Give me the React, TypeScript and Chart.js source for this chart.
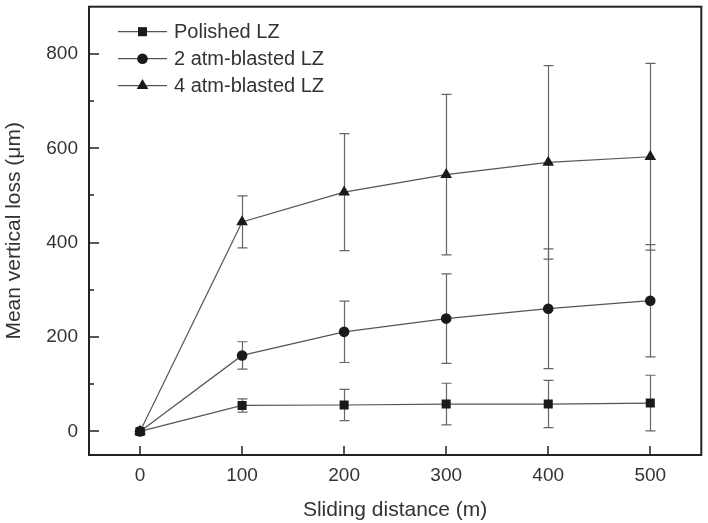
import React, { useEffect, useRef } from "react";
import { Chart, registerables } from "chart.js";

Chart.register(...registerables);

const xValues = [0, 100, 200, 300, 400, 500];
const xTicks = [0, 100, 200, 300, 400, 500];
const yTicks = [0, 200, 400, 600, 800];
const yMinorTicks = [100, 300, 500, 700];

const seriesLabels = ["Polished LZ", "2 atm-blasted LZ", "4 atm-blasted LZ"];
const polished = [0, 55, 56, 58, 58, 60];
const polishedErr = [0, 14, 33, 44, 50, 59];
const atm2 = [0, 161, 211, 239, 260, 277];
const atm2Err = [0, 29, 65, 95, 127, 119];
const atm4 = [0, 444, 507, 544, 570, 582];
const atm4Err = [0, 55, 124, 170, 205, 198];

const xTitle = "Sliding distance (m)";
const yTitle = "Mean vertical loss (\u03bcm)";

const FONT = "'Liberation Sans', Arial, Helvetica, sans-serif";
const TEXT = "#333333";
const AXIS = "#222222";
const LINE = "#555555";
const MARK = "#1a1a1a";
const ERR = "#666666";

const errorsBySeries = [polishedErr, atm2Err, atm4Err];

function drawMarker(ctx: CanvasRenderingContext2D, style: string, r: number, x: number, y: number) {
  ctx.beginPath();
  if (style === "rect") {
    const s = Math.SQRT1_2 * r;
    ctx.rect(x - s, y - s, 2 * s, 2 * s);
  } else if (style === "circle") {
    ctx.arc(x, y, r, 0, Math.PI * 2);
  } else {
    const a = (2 * Math.PI) / 3;
    ctx.moveTo(x, y - r);
    ctx.lineTo(x + Math.sin(a) * r, y - Math.cos(a) * r);
    ctx.lineTo(x - Math.sin(a) * r, y - Math.cos(a) * r);
    ctx.closePath();
  }
  ctx.fill();
}

const errorBarPlugin = {
  id: "errorBars",
  beforeDatasetsDraw(chart: any) {
    const { ctx, scales } = chart;
    const xs = scales.x;
    const ys = scales.y;
    ctx.save();
    ctx.strokeStyle = ERR;
    ctx.lineWidth = 1.2;
    chart.data.datasets.forEach((ds: any, i: number) => {
      const errs = errorsBySeries[i];
      ds.data.forEach((pt: any, j: number) => {
        const e = errs[j];
        if (!e) return;
        const px = Math.round(xs.getPixelForValue(pt.x)) + 0.5;
        const top = ys.getPixelForValue(pt.y + e);
        const bot = ys.getPixelForValue(pt.y - e);
        const cap = 5;
        ctx.beginPath();
        ctx.moveTo(px, top);
        ctx.lineTo(px, bot);
        ctx.moveTo(px - cap, top);
        ctx.lineTo(px + cap, top);
        ctx.moveTo(px - cap, bot);
        ctx.lineTo(px + cap, bot);
        ctx.stroke();
      });
    });
    ctx.restore();
  },
};

const frameLegendPlugin = {
  id: "frameLegend",
  afterDraw(chart: any) {
    const { ctx, chartArea, scales } = chart;
    const { left, right, top, bottom } = chartArea;
    ctx.save();
    ctx.strokeStyle = AXIS;
    ctx.lineWidth = 2;
    ctx.strokeRect(left, top, right - left, bottom - top);
    ctx.lineWidth = 1.5;
    ctx.beginPath();
    yTicks.forEach((v) => {
      const y = Math.round(scales.y.getPixelForValue(v));
      ctx.moveTo(left, y);
      ctx.lineTo(left + 10, y);
    });
    yMinorTicks.forEach((v) => {
      const y = Math.round(scales.y.getPixelForValue(v));
      ctx.moveTo(left, y);
      ctx.lineTo(left + 5, y);
    });
    xTicks.forEach((v) => {
      const x = Math.round(scales.x.getPixelForValue(v));
      ctx.moveTo(x, bottom);
      ctx.lineTo(x, bottom - 9);
    });
    ctx.stroke();

    const rows = [25, 52, 79];
    chart.data.datasets.forEach((ds: any, i: number) => {
      const y = top + rows[i];
      const x0 = left + 29;
      const x1 = left + 78;
      ctx.strokeStyle = LINE;
      ctx.lineWidth = 1.2;
      ctx.beginPath();
      ctx.moveTo(x0, y);
      ctx.lineTo(x1, y);
      ctx.stroke();
      ctx.fillStyle = MARK;
      drawMarker(ctx, ds.pointStyle, ds.pointRadius, (x0 + x1) / 2, y);
      ctx.fillStyle = TEXT;
      ctx.font = `20px ${FONT}`;
      ctx.textBaseline = "middle";
      ctx.textAlign = "left";
      ctx.fillText(ds.label, left + 85, y + 1);
    });
    ctx.restore();
  },
};

export default function App() {
  const ref = useRef<HTMLCanvasElement | null>(null);
  useEffect(() => {
    if (!ref.current) return;
    const mk = (vals: number[]) => xValues.map((x, i) => ({ x, y: vals[i] }));
    const base = {
      borderColor: LINE,
      borderWidth: 1.2,
      pointBackgroundColor: MARK,
      pointBorderColor: MARK,
      pointBorderWidth: 0,
      fill: false,
      tension: 0,
    };
    const chart = new Chart(ref.current, {
      type: "line",
      data: {
        datasets: [
          { ...base, label: seriesLabels[0], data: mk(polished), pointStyle: "rect", pointRadius: 6.4 },
          { ...base, label: seriesLabels[1], data: mk(atm2), pointStyle: "circle", pointRadius: 5.3 },
          { ...base, label: seriesLabels[2], data: mk(atm4), pointStyle: "triangle", pointRadius: 6.7 },
        ] as any,
      },
      options: {
        animation: false,
        responsive: false,
        layout: { padding: { top: 2, right: 4, left: 0, bottom: 0 } },
        plugins: { legend: { display: false }, tooltip: { enabled: false } },
        scales: {
          x: {
            type: "linear",
            min: -50,
            max: 550,
            afterBuildTicks: (s: any) => {
              s.ticks = xTicks.map((v) => ({ value: v }));
            },
            afterFit: (s: any) => {
              s.height = 68;
              s.paddingLeft = 0;
              s.paddingRight = 0;
            },
            grid: { display: false, drawTicks: false },
            border: { display: false },
            ticks: { color: TEXT, font: { family: FONT, size: 19 }, padding: 9, maxRotation: 0 },
            title: { display: true, text: xTitle, color: TEXT, font: { family: FONT, size: 21 }, padding: 0 },
          },
          y: {
            type: "linear",
            min: -50,
            max: 900,
            afterBuildTicks: (s: any) => {
              s.ticks = yTicks.map((v) => ({ value: v }));
            },
            afterFit: (s: any) => {
              s.width = 89;
              s.paddingTop = 0;
              s.paddingBottom = 0;
            },
            grid: { display: false, drawTicks: false },
            border: { display: false },
            ticks: { color: TEXT, font: { family: FONT, size: 19 }, padding: 11 },
            title: { display: true, text: yTitle, color: TEXT, font: { family: FONT, size: 21 }, padding: { top: 1.5, bottom: 0 } },
          },
        },
      } as any,
      plugins: [errorBarPlugin, frameLegendPlugin],
    });
    return () => chart.destroy();
  }, []);
  return (
    <div style={{ position: "fixed", left: 0, top: 0, width: 708, height: 523, background: "#fff" }}>
      <canvas ref={ref} width={708} height={523} style={{ display: "block" }} />
    </div>
  );
}
